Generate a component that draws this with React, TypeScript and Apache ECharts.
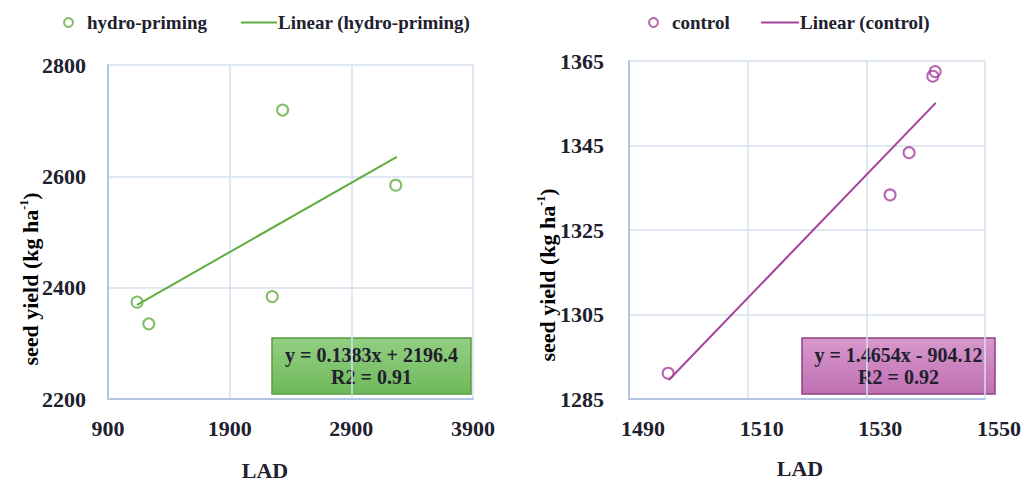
import React, { useEffect, useRef } from "react";
import * as echarts from "echarts";

// ---- data ----
const hpLAD = [1139, 1235, 2335, 2250, 3265];
const hpYield = [2374, 2335, 2719, 2384, 2584];
const hpTrendLAD = [1139, 3274];
const hpTrendYield = [2369, 2635];

const ctLAD = [1496.6, 1534.0, 1537.2, 1541.2, 1541.6];
const ctYield = [1291.1, 1333.3, 1343.3, 1361.4, 1362.5];
const ctTrendLAD = [1496.7, 1541.7];
const ctTrendYield = [1289.5, 1355.1];

const hpName = "hydro-priming";
const hpTrendName = "Linear (hydro-priming)";
const ctName = "control";
const ctTrendName = "Linear (control)";
const hpEquation = ["y = 0.1383x + 2196.4", "R2 = 0.91"];
const ctEquation = ["y = 1.4654x - 904.12", "R2 = 0.92"];
const xName = "LAD";

const GREEN = "#5fae40";
const PURPLE = "#a5409a";
const FONT = "Liberation Serif";
const TXT = "#20202e";
const GRIDC = "#d6e0f0";
const AXISC = "#b3c5e5";

const zip = (a: number[], b: number[]) => a.map((v, i) => [v, b[i]]);

export default function App() {
  const ref = useRef<HTMLDivElement>(null);
  useEffect(() => {
    if (!ref.current) return;
    const chart = echarts.init(ref.current, undefined, { renderer: "svg" });
    const axisLabel = {
      color: TXT, fontFamily: FONT, fontWeight: "bold" as const, fontSize: 22,
      formatter: (v: number) => String(v),
    };
    const splitLine = { show: true, lineStyle: { color: GRIDC, width: 1.5 } };
    const axisLine = { show: true, lineStyle: { color: AXISC, width: 2 } };
    const legendText = { color: TXT, fontFamily: FONT, fontWeight: "bold" as const, fontSize: 19 };
    const nameRich = {
      m: { fontFamily: FONT, fontWeight: "bold" as const, fontSize: 22, color: TXT, lineHeight: 24 },
      s: { fontFamily: FONT, fontWeight: "bold" as const, fontSize: 12, color: TXT, lineHeight: 24, verticalAlign: "top" as const, padding: [0, 0, 8, 0] },
    };
    const eqBox = (x: number, y: number, w: number, h: number, c1: string, c2: string, stroke: string, lines: string[]) => ({
      type: "group",
      children: [
        {
          type: "rect",
          shape: { x, y, width: w, height: h },
          style: {
            fill: new echarts.graphic.LinearGradient(0, 0, 0, 1, [
              { offset: 0, color: c1 },
              { offset: 1, color: c2 },
            ]),
            stroke,
            lineWidth: 1.5,
          },
        },
        {
          type: "text",
          x: x + w / 2,
          y: y + h / 2,
          style: {
            text: lines.join("\n"),
            align: "center",
            verticalAlign: "middle",
            fontFamily: FONT,
            fontWeight: "bold",
            fontSize: 20,
            lineHeight: 22,
            fill: TXT,
          },
        },
      ],
    });
    chart.setOption({
      animation: false,
      backgroundColor: "#ffffff",
      grid: [
        { left: 108, top: 65, width: 365, height: 334 },
        { left: 629, top: 61, width: 369, height: 338 },
      ],
      xAxis: [
        {
          type: "value", gridIndex: 0, min: 900, max: 3900, interval: 1000,
          axisLine, splitLine, axisTick: { show: false },
          axisLabel: { ...axisLabel, margin: 18 },
        },
        {
          type: "value", gridIndex: 1, min: 1490, max: 1550, interval: 20,
          axisLine, splitLine, axisTick: { show: false },
          axisLabel: { ...axisLabel, margin: 18, padding: [0, 0, 0, 28] },
        },
      ],
      yAxis: [
        {
          type: "value", gridIndex: 0, min: 2200, max: 2800, interval: 200,
          axisLine, splitLine, axisTick: { show: false },
          axisLabel: { ...axisLabel, margin: 22 },
        },
        {
          type: "value", gridIndex: 1, min: 1285, max: 1365, interval: 20,
          axisLine, splitLine, axisTick: { show: false },
          axisLabel: { ...axisLabel, margin: 25 },
        },
      ],
      legend: [
        {
          data: [{ name: hpName, icon: "circle" }], left: 58, top: 8, itemWidth: 9, itemHeight: 9,
          textStyle: { ...legendText, padding: [0, 0, 0, 9] },
        },
        {
          data: [{ name: hpTrendName, icon: "rect" }], left: 236, top: 8, itemWidth: 36, itemHeight: 2,
          textStyle: { ...legendText, padding: [0, 0, 0, -4] },
        },
        {
          data: [{ name: ctName, icon: "circle" }], left: 643, top: 8, itemWidth: 9, itemHeight: 9,
          textStyle: { ...legendText, padding: [0, 0, 0, 9] },
        },
        {
          data: [{ name: ctTrendName, icon: "rect" }], left: 756, top: 8, itemWidth: 38, itemHeight: 2,
          textStyle: { ...legendText, padding: [0, 0, 0, -4] },
        },
      ],
      series: [
        {
          name: hpName, type: "scatter", xAxisIndex: 0, yAxisIndex: 0,
          data: zip(hpLAD, hpYield), symbol: "circle", symbolSize: 11,
          itemStyle: { color: "rgba(255,255,255,0)", borderColor: GREEN, borderWidth: 2 },
        },
        {
          name: hpTrendName, type: "line", xAxisIndex: 0, yAxisIndex: 0,
          data: zip(hpTrendLAD, hpTrendYield), symbol: "none",
          lineStyle: { color: GREEN, width: 2 }, itemStyle: { color: GREEN },
        },
        {
          name: ctName, type: "scatter", xAxisIndex: 1, yAxisIndex: 1,
          data: zip(ctLAD, ctYield), symbol: "circle", symbolSize: 11,
          itemStyle: { color: "rgba(255,255,255,0)", borderColor: PURPLE, borderWidth: 2 },
        },
        {
          name: ctTrendName, type: "line", xAxisIndex: 1, yAxisIndex: 1,
          data: zip(ctTrendLAD, ctTrendYield), symbol: "none",
          lineStyle: { color: PURPLE, width: 2 }, itemStyle: { color: PURPLE },
        },
      ],
      graphic: [
        eqBox(272, 338, 199, 56, "#93cf82", "#6fb95a", "#5a9a45", hpEquation),
        eqBox(802, 338, 193, 56, "#d898cc", "#c070b3", "#8f4184", ctEquation),
        {
          type: "text", x: 30, y: 279, rotation: Math.PI / 2,
          style: { text: "{m|seed yield (kg ha}{s|-1}{m|)}", rich: nameRich, align: "center", verticalAlign: "middle" },
        },
        {
          type: "text", x: 547, y: 275, rotation: Math.PI / 2,
          style: { text: "{m|seed yield (kg ha}{s|-1}{m|)}", rich: nameRich, align: "center", verticalAlign: "middle" },
        },
        {
          type: "text", x: 265, y: 470,
          style: { text: xName, align: "center", verticalAlign: "middle", fontFamily: FONT, fontWeight: "bold", fontSize: 22, fill: TXT },
        },
        {
          type: "text", x: 800, y: 468,
          style: { text: xName, align: "center", verticalAlign: "middle", fontFamily: FONT, fontWeight: "bold", fontSize: 22, fill: TXT },
        },
      ],
    });
    return () => chart.dispose();
  }, []);
  return (
    <div
      ref={ref}
      style={{ position: "fixed", left: 0, top: 0, width: 1024, height: 482, background: "#fff" }}
    />
  );
}
